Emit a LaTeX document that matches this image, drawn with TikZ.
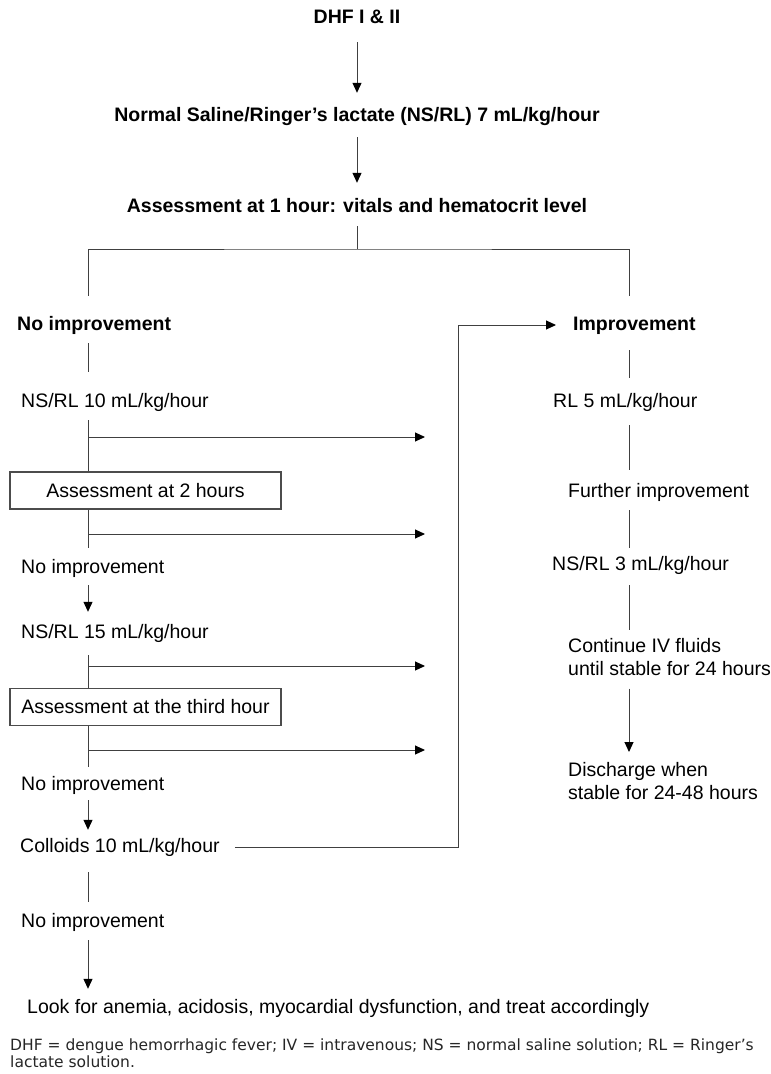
\documentclass[tikz,border=0pt]{standalone}
\usepackage{fontspec}
\setmainfont{Liberation Sans}
\newfontfamily\notefont{DejaVu Sans}
\usetikzlibrary{arrows.meta,positioning,calc}

\tikzset{
  txt/.style={inner sep=0pt, anchor=west, text height=14pt, text depth=4pt, font=\fontsize{19.5}{22.5}\selectfont},
  btxt/.style={txt, font=\fontsize{19.5}{22.5}\selectfont\bfseries},
  head/.style={btxt, anchor=center},
  multi/.style={inner sep=0pt, anchor=north west, align=left, font=\fontsize{19.5}{23}\selectfont},
  stepbox/.style={draw=black!70, line width=1.1pt, minimum width=271pt, minimum height=37pt, inner sep=0pt, font=\fontsize{19.5}{22.5}\selectfont},
  link/.style={draw=black!75, line width=1pt},
  flow/.style={link, -{Triangle[length=10pt,width=9pt,color=black]}},
}

\begin{document}
\begin{tikzpicture}[x=1pt,y=-1pt]
    \path[fill=white] (0,0) rectangle (771,1074);
    \useasboundingbox (0,0) rectangle (771,1074);

    % Spines
    \coordinate (spineL) at (88,0);
    \coordinate (spineM) at (357,0);
    \coordinate (spineR) at (629,0);
    \coordinate (loopX) at (458,0);
    \coordinate (tipX) at (425,0);
    \coordinate (split) at (357,249);

    % Top
    \node[head] (dhf) at (357,18) {DHF I \& II};
    \node[head] (nsrl7) at (357,116) {Normal Saline/Ringer's lactate (NS/RL) 7 mL/kg/hour};
    \node[head] (assess1) at (357,207) {Assessment at 1 hour: vitals and hematocrit level};

    % Left branch
    \node[btxt] (noimpA) at (17,325) {No improvement};
    \node[txt] (ns10) at (21,402) {NS/RL 10 mL/kg/hour};
    \node[stepbox] (box2) at (145.5,490.5) {Assessment at 2 hours};
    \node[txt] (noimpB) at (21,568) {No improvement};
    \node[txt] (ns15) at (21,633) {NS/RL 15 mL/kg/hour};
    \node[stepbox] (box3) at (145.5,707) {Assessment at the third hour};
    \node[txt] (noimpC) at (21,785) {No improvement};
    \node[txt] (colloids) at (20,847) {Colloids 10 mL/kg/hour};
    \node[txt] (noimpD) at (21,922) {No improvement};
    \node[txt] (look) at (27,1008) {Look for anemia, acidosis, myocardial dysfunction, and treat accordingly};

    % Right branch
    \node[btxt] (imp) at (573,325) {Improvement};
    \node[txt] (rl5) at (553,402) {RL 5 mL/kg/hour};
    \node[txt] (further) at (568,492) {Further improvement};
    \node[txt] (ns3) at (552,565) {NS/RL 3 mL/kg/hour};
    \node[multi] (cont) at (568,638) {Continue IV fluids\\until stable for 24 hours};
    \node[multi] (discharge) at (568,762) {Discharge when\\stable for 24-48 hours};

    % Footnote
    \node[inner sep=0pt, anchor=north west, align=left, text=black!85,
          font=\notefont\fontsize{15.5}{17}\selectfont] (note) at (10,1039)
          {DHF = dengue hemorrhagic fever; IV = intravenous; NS = normal saline solution; RL = Ringer’s\\lactate solution.};

    % Branch points
    \coordinate (b1) at (88,437);
    \coordinate (b2) at (88,534);
    \coordinate (b3) at (88,666);
    \coordinate (b4) at (88,750);

    % Arrows
    \draw[flow, shorten <=15pt, shorten >=14pt] (dhf.south) -- (nsrl7.north);
    \draw[flow, shorten <=12pt, shorten >=15pt] (nsrl7.south) -- (assess1.north);
    \draw[link, shorten <=10pt] (assess1.south) -- (split);
    \draw[link, shorten <=20pt, shorten >=20pt] (noimpA.north -| spineL) |- (split) -| (imp.north -| spineR);

    \draw[link, shorten <=9pt, shorten >=21pt] (noimpA.south -| spineL) -- (ns10.north -| spineL);
    \draw[link, shorten <=9pt] (ns10.south -| spineL) -- (box2.north -| spineL);
    \draw[link, shorten >=11pt] (box2.south -| spineL) -- (noimpB.north -| spineL);
    \draw[flow, shorten <=8pt, shorten >=12pt] (noimpB.south -| spineL) -- (ns15.north -| spineL);
    \draw[link, shorten <=13pt] (ns15.south -| spineL) -- (box3.north -| spineL);
    \draw[link, shorten >=9pt] (box3.south -| spineL) -- (noimpC.north -| spineL);
    \draw[flow, shorten <=6pt, shorten >=8pt] (noimpC.south -| spineL) -- (colloids.north -| spineL);
    \draw[link, shorten <=16pt, shorten >=11pt] (colloids.south -| spineL) -- (noimpD.north -| spineL);
    \draw[flow, shorten <=9pt, shorten >=10pt] (noimpD.south -| spineL) -- (look.north -| spineL);

    \draw[flow] (b1) -- (b1 -| tipX);
    \draw[flow] (b2) -- (b2 -| tipX);
    \draw[flow] (b3) -- (b3 -| tipX);
    \draw[flow] (b4) -- (b4 -| tipX);

    \draw[flow, shorten <=15pt, shorten >=17pt] (colloids.east) -- (colloids.east -| loopX) |- (imp.west);

    \draw[link, shorten <=16pt, shorten >=15pt] (imp.south -| spineR) -- (rl5.north -| spineR);
    \draw[link, shorten <=14pt, shorten >=13pt] (rl5.south -| spineR) -- (further.north -| spineR);
    \draw[link, shorten <=9pt, shorten >=8pt] (further.south -| spineR) -- (ns3.north -| spineR);
    \draw[link, shorten <=11pt, shorten >=8pt] (ns3.south -| spineR) -- (cont.north -| spineR);
    \draw[flow, shorten <=13pt, shorten >=10pt] (cont.south -| spineR) -- (discharge.north -| spineR);
\end{tikzpicture}
\end{document}
